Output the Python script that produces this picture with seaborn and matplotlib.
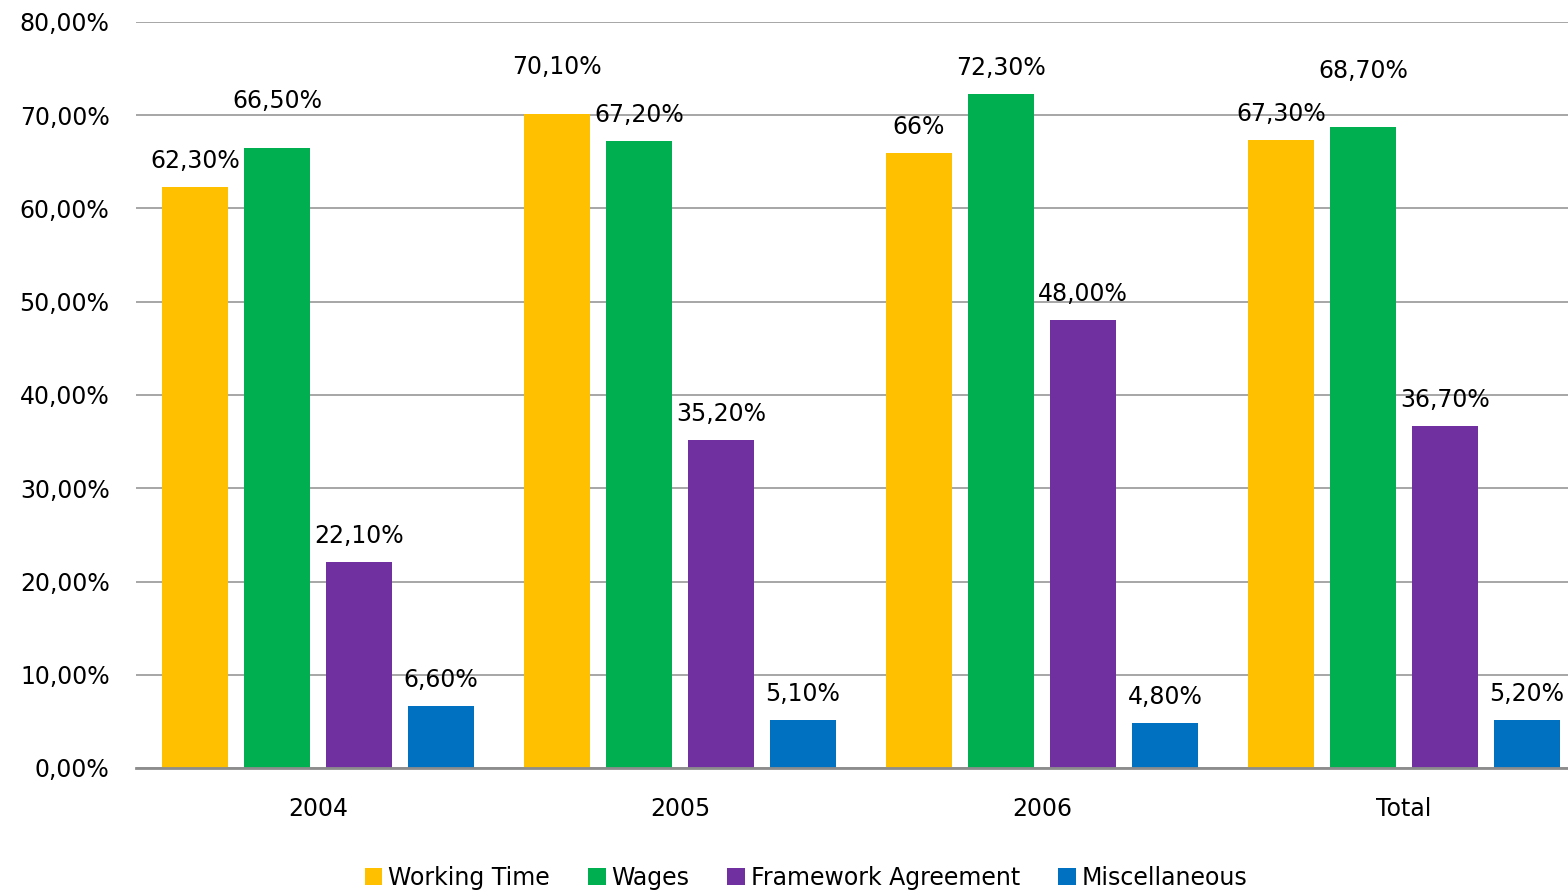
import matplotlib
matplotlib.use("Agg")
import matplotlib.pyplot as plt
import seaborn as sns
import pandas as pd
from matplotlib.patches import Patch
from matplotlib.ticker import FuncFormatter

# Share of agreements by topic
years = ["2004", "2005", "2006", "Total"]
topics = ["Working Time", "Wages", "Framework Agreement", "Miscellaneous"]
working_time = [62.3, 70.1, 66.0, 67.3]
wages = [66.5, 67.2, 72.3, 68.7]
framework = [22.1, 35.2, 48.0, 36.7]
miscellaneous = [6.6, 5.1, 4.8, 5.2]
value_labels = [
    ["62,30%", "70,10%", "66%", "67,30%"],
    ["66,50%", "67,20%", "72,30%", "68,70%"],
    ["22,10%", "35,20%", "48,00%", "36,70%"],
    ["6,60%", "5,10%", "4,80%", "5,20%"],
]

colors = ["#FFC000", "#00B050", "#7030A0", "#0070C0"]

series = [working_time, wages, framework, miscellaneous]
df = pd.DataFrame(
    [(y, t, v) for t, vals in zip(topics, series) for y, v in zip(years, vals)],
    columns=["year", "topic", "value"],
)

sns.set_theme(style="white")
plt.rcParams["font.family"] = ["DejaVu Sans"]
plt.rcParams["text.color"] = "black"
FS = 17

fig = plt.figure(figsize=(15.68, 8.93), dpi=100)
ax = fig.add_axes([136 / 1568, 125 / 893, 1 - 136 / 1568, (768 - 22) / 893])

sns.barplot(
    data=df, x="year", y="value", hue="topic", order=years, hue_order=topics,
    palette=colors, width=0.906, gap=0.2, saturation=1, legend=False, ax=ax,
    edgecolor="none", linewidth=0,
)

ax.set_ylim(0, 80)
ax.set_xlim(-0.503, 3.453)
ax.set_yticks(range(0, 81, 10))
ax.yaxis.set_major_formatter(FuncFormatter(lambda v, p: f"{v:.2f}%".replace(".", ",")))
ax.yaxis.grid(True, color="#A6A6A6", linewidth=1.4)
ax.set_axisbelow(True)
for s in ["left", "right", "top"]:
    ax.spines[s].set_visible(False)
ax.spines["bottom"].set_color("#8C8C8C")
ax.spines["bottom"].set_linewidth(2)
ax.tick_params(axis="y", length=0, pad=19, labelsize=FS, labelcolor="black")
ax.tick_params(axis="x", length=0, pad=21, labelsize=FS, labelcolor="black")
ax.set_xlabel("")
ax.set_ylabel("")

# Extra lift (pixels) for a few labels that sit higher above their bars
lift = {(1, 0): 21, (0, 1): 21, (1, 3): 30}

for si, container in enumerate(ax.containers):
    for gi, bar in enumerate(container):
        x = bar.get_x() + bar.get_width() / 2
        h = bar.get_height()
        ax.annotate(
            value_labels[si][gi], (x, h), xytext=(0, 26 + lift.get((si, gi), 0)),
            textcoords="offset pixels", ha="center", va="center",
            fontsize=FS, color="black", annotation_clip=False,
        )

handles = [Patch(facecolor=c, edgecolor="none") for c in colors]
leg = fig.legend(
    handles, topics, loc="center", bbox_to_anchor=(806 / 1568, 1 - 878 / 893),
    ncol=4, frameon=False, fontsize=FS, handlelength=0.75, handleheight=0.75,
    handletextpad=0.25, columnspacing=1.6,
)
for t in leg.get_texts():
    t.set_color("black")

fig.savefig("out.png", dpi=100)
